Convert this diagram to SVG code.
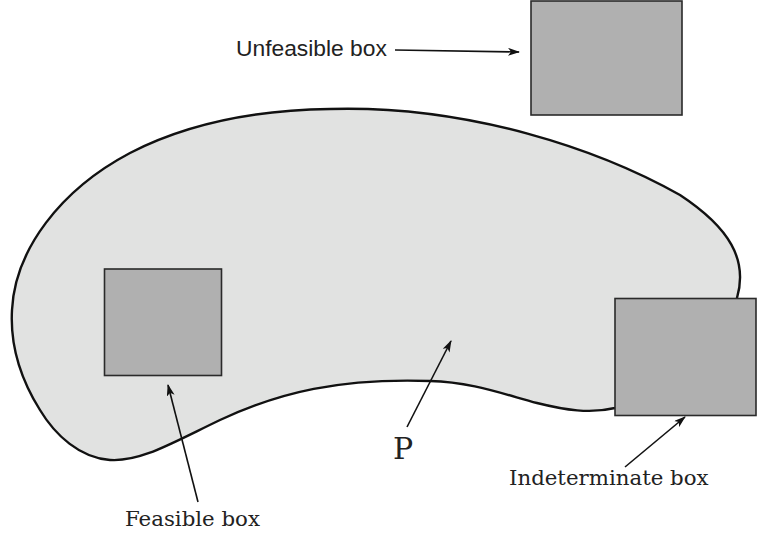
<svg xmlns="http://www.w3.org/2000/svg" width="757" height="535" viewBox="0 0 757 535">
<defs>
<style>
.box{fill:#b0b0b0;stroke:#2a2a2a;stroke-width:1.6}
.blob{fill:#e1e2e1;stroke:#111;stroke-width:2.4;stroke-linejoin:round}
.conn{stroke:#111;stroke-width:1.6;fill:none;marker-end:url(#ah)}
.sans{font-family:"Liberation Sans",Arial,sans-serif;font-size:22.8px;fill:#222}
.serif{font-family:"DejaVu Serif",serif;font-size:21.3px;fill:#222}
</style>
<marker id="ah" viewBox="0 0 12 8" refX="11" refY="4" markerWidth="12" markerHeight="8" markerUnits="userSpaceOnUse" orient="auto">
<path d="M0,0 L12,4 L0,8 L3,4 z" fill="#111"/>
</marker>
</defs>
<g id="region-P">
<path class="blob" d="M330,109 C470,105 600,150 680,195 C730,228 748,260 737,298 L700,380 L615,408 C590,414 565,410 537,403 C500,393 470,382 430,381 C340,378 280,392 220,420 C170,444 140,462 110,460 C80,458 55,435 40,410 C20,378 10,345 12,310 C15,250 60,190 130,153 C190,122 260,110 330,109 Z"/>
</g>
<g id="unfeasible-box"><rect class="box" x="531" y="1" width="151" height="114"/></g>
<g id="feasible-box"><rect class="box" x="104.5" y="269" width="117" height="106.5"/></g>
<g id="indeterminate-box"><rect class="box" x="615" y="298.5" width="141" height="117"/></g>
<g id="connectors">
<line class="conn" x1="395" y1="50" x2="519" y2="52"/>
<line class="conn" x1="198" y1="502" x2="168" y2="385"/>
<line class="conn" x1="407" y1="427" x2="451" y2="341"/>
<line class="conn" x1="625" y1="467" x2="685" y2="417"/>
</g>
<g id="labels">
<text class="sans" x="236" y="56">Unfeasible box</text>
<text class="serif" x="125" y="526">Feasible box</text>
<text class="serif" x="393" y="459" style="font-size:30px">P</text>
<text class="serif" x="509" y="485">Indeterminate box</text>
</g>
</svg>
